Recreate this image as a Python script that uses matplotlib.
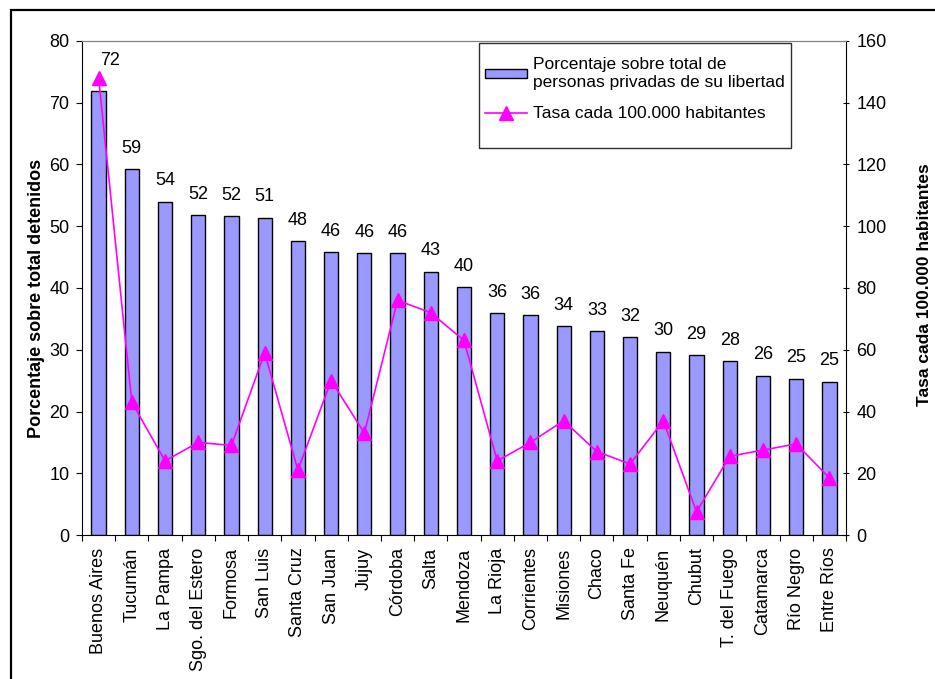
import matplotlib.pyplot as plt
from matplotlib.patches import Rectangle
from matplotlib.lines import Line2D
import numpy as np

plt.rcParams['font.family'] = ['Liberation Sans', 'DejaVu Sans']

provincias = ["Buenos Aires", "Tucumán", "La Pampa", "Sgo. del Estero", "Formosa",
              "San Luis", "Santa Cruz", "San Juan", "Jujuy", "Córdoba", "Salta",
              "Mendoza", "La Rioja", "Corrientes", "Misiones", "Chaco", "Santa Fe",
              "Neuquén", "Chubut", "T. del Fuego", "Catamarca", "Río Negro", "Entre Ríos"]
porcentaje = [71.9, 59.2, 54.0, 51.8, 51.6, 51.4, 47.6, 45.8, 45.6, 45.6, 42.6,
              40.1, 35.9, 35.6, 33.8, 33.0, 32.0, 29.7, 29.1, 28.1, 25.8, 25.3, 24.8]
tasa = [148, 43, 24, 30, 29, 59, 21, 50, 33, 76, 72,
        63, 24, 30, 37, 27, 23, 37, 7.5, 25.5, 27.5, 29.5, 18.5]

W, H = 935, 679
fs = 13
fig = plt.figure(figsize=(W / 100, H / 100), dpi=100)
ax = fig.add_axes([82 / W, 1 - 535 / H, (846 - 82) / W, (535 - 41) / H])
ax2 = ax.twinx()

x = np.arange(len(provincias))
bars = ax.bar(x, porcentaje, width=0.43, color='#9999FF', edgecolor='black', linewidth=1.0,
              label='Porcentaje sobre total de\npersonas privadas de su libertad', zorder=2)
labels = ax.bar_label(bars, fmt='%.0f', padding=9, fontsize=fs)
labels[0].xyann = (8.5, 16)

ax2.plot(x, tasa, color='#FF00FF', marker='^', markersize=10, linewidth=1.2,
         label='Tasa cada 100.000 habitantes', zorder=3)

ax.set_xlim(-0.5, len(provincias) - 0.5)
ax.set_ylim(0, 80)
ax.set_yticks(range(0, 81, 10))
ax2.set_ylim(0, 160)
ax2.set_yticks(range(0, 161, 20))

ax.set_xticks(np.arange(len(provincias) + 1) - 0.5)
ax.set_xticklabels([])
ax.set_xticks(x, minor=True)
ax.set_xticklabels(provincias, minor=True, rotation=90, fontsize=fs)
ax.tick_params(axis='x', which='major', length=4, direction='out')
ax.tick_params(axis='x', which='minor', length=0, pad=9)
ax.tick_params(axis='y', length=4, direction='out', labelsize=fs, pad=5)
ax2.tick_params(axis='y', length=5, direction='inout', labelsize=fs, pad=5)

for a in (ax, ax2):
    a.spines['top'].set_color('#808080')
ax2.spines['left'].set_visible(False)
ax2.spines['bottom'].set_visible(False)
ax.spines['right'].set_visible(False)

ax.set_ylabel('Porcentaje sobre total detenidos', fontweight='bold', fontsize=fs)
ax.yaxis.set_label_coords(-0.048, 0.478)
ax2.set_ylabel('Tasa cada 100.000 habitantes', fontweight='bold', fontsize=12.5,
               rotation=90)
ax2.yaxis.set_label_coords(1.093, 0.506)

# legend
handles = [Rectangle((0, 0), 1, 1, facecolor='#9999FF', edgecolor='black', linewidth=1.0),
           Line2D([], [], color='#FF00FF', marker='^', markersize=10, linewidth=1.2)]
fig.legend(handles, [bars.get_label(), 'Tasa cada 100.000 habitantes'],
           loc='upper left', bbox_to_anchor=(474 / W, 1 - 46 / H), frameon=False,
           fontsize=12.5, handlelength=2.4, handleheight=0.45, handletextpad=0.35,
           labelspacing=0.95, borderpad=0.15)
fig.patches.append(Rectangle((479 / W, 1 - 148 / H), (791 - 479) / W, (148 - 43) / H,
                             transform=fig.transFigure, fill=False, edgecolor='#303030',
                             linewidth=1.0))

# outer chart border
fig.patches.append(Rectangle((11 / W, -0.05), 1.0, 1 - 10 / H + 0.05,
                             transform=fig.transFigure, fill=False, edgecolor='black',
                             linewidth=1.6))

fig.savefig('out.png', dpi=100)
